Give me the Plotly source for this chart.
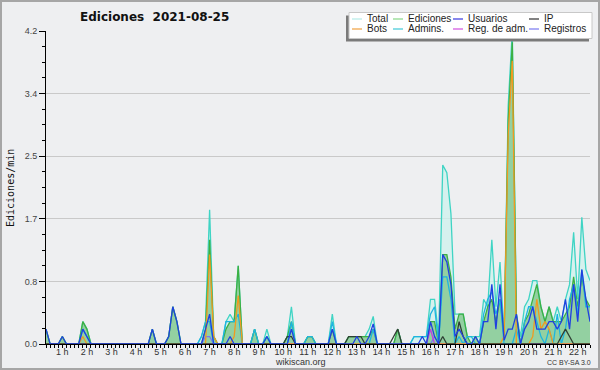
import plotly.graph_objects as go

# ---- data (10-minute bins, first bin at 00:20) ----
start_hour = 1 / 3
step_hour = 1 / 6

total = [
    .2, 0, 0, 0, .1, 0, 0, 0, 0, .3,
    .2, 0, 0, 0, 0, 0, 0, 0, 0, 0,
    0, 0, 0, 0, 0, 0, .2, 0, 0, 0,
    .1, .5, .3, 0, 0, 0, 0, 0, .1, .3,
    1.8, .1, 0, 0, .3, .4, .3, 1.05, 0, 0,
    0, .2, 0, 0, .2, 0, 0, 0, 0, .1,
    .5, 0, 0, 0, .1, .1, 0, 0, 0, 0,
    .4, 0, 0, 0, .1, .1, .1, .1, .1, .2,
    .37, 0, 0, 0, 0, 0, .2, 0, 0, 0,
    .1, .1, .1, .1, .6, .6, .1, 2.4, 2.3, 1.75,
    .4, .4, .4, .1, .1, .1, .1, .6, .5, 1.4,
    .5, 1.1, .1, 3.2, 4.2, .4, .1, .5, .6, .85,
    .85, .5, .3, .5, .3, .5, .3, .6, .8, 1.5,
    .6, 1.7, 1.0, .85]

ediciones = [
    .2, 0, 0, 0, .1, 0, 0, 0, 0, .3,
    .2, 0, 0, 0, 0, 0, 0, 0, 0, 0,
    0, 0, 0, 0, 0, 0, .2, 0, 0, 0,
    .1, .5, .3, 0, 0, 0, 0, 0, 0, .2,
    1.4, .1, 0, 0, .2, .3, .3, 1.05, 0, 0,
    0, .2, 0, 0, .1, 0, 0, 0, 0, .1,
    .3, 0, 0, 0, .1, .1, 0, 0, 0, 0,
    .2, 0, 0, 0, .1, .1, .1, .1, .1, .1,
    .2, 0, 0, 0, 0, 0, .2, 0, 0, 0,
    0, 0, 0, 0, .3, .3, 0, 1.2, 1.2, .9,
    .2, .4, .4, .1, 0, .1, 0, .3, .5, .6,
    .3, .6, .1, 3.0, 4.05, .4, 0, .3, .4, .6,
    .8, .5, .3, .5, .3, .3, .3, .4, .5, .9,
    .5, .9, .6, .5]

usuarios = [
    .2, 0, 0, 0, .1, 0, 0, 0, 0, .2,
    .1, 0, 0, 0, 0, 0, 0, 0, 0, 0,
    0, 0, 0, 0, 0, 0, .2, 0, 0, 0,
    .1, .5, .3, 0, 0, 0, 0, 0, 0, .2,
    .4, 0, 0, 0, 0, .1, 0, 0, 0, 0,
    0, 0, 0, 0, .1, 0, 0, 0, 0, 0,
    .2, 0, 0, 0, 0, 0, 0, 0, 0, 0,
    .2, 0, 0, 0, 0, 0, .1, 0, 0, .1,
    .27, 0, 0, 0, 0, 0, 0, 0, 0, 0,
    0, 0, .1, 0, .3, .1, 0, 1.2, 1.1, .8,
    .1, .2, .1, 0, 0, .1, 0, .3, .3, .8,
    .2, .8, .05, .2, .2, .4, 0, .2, .3, .5,
    .2, .2, .2, .3, .3, .2, .3, .6, .2, .8,
    .3, 1.0, .6, .3]

ip = [
    0, 0, 0, 0, 0, 0, 0, 0, 0, 0,
    0, 0, 0, 0, 0, 0, 0, 0, 0, 0,
    0, 0, 0, 0, 0, 0, 0, 0, 0, 0,
    0, 0, 0, 0, 0, 0, 0, 0, 0, 0,
    0, 0, 0, 0, 0, 0, 0, 0, 0, 0,
    0, 0, 0, 0, 0, 0, 0, 0, 0, .1,
    .1, 0, 0, 0, 0, 0, 0, 0, 0, 0,
    0, 0, 0, 0, .1, .1, .1, .1, 0, 0,
    0, 0, 0, 0, 0, .1, .2, 0, 0, 0,
    0, 0, 0, 0, 0, 0, 0, .1, 0, 0,
    0, .3, .1, 0, 0, 0, 0, 0, 0, 0,
    0, 0, 0, 0, 0, 0, 0, 0, 0, 0,
    0, 0, 0, 0, 0, 0, .1, .2, .1, 0,
    0, 0, 0, 0]

bots = [
    0, 0, 0, 0, 0, 0, 0, 0, 0, .1,
    0, 0, 0, 0, 0, 0, 0, 0, 0, 0,
    0, 0, 0, 0, 0, 0, 0, 0, 0, 0,
    0, 0, 0, 0, 0, 0, 0, 0, 0, 0,
    1.2, .1, 0, 0, 0, 0, .1, .65, 0, 0,
    0, 0, 0, 0, 0, 0, 0, 0, 0, 0,
    0, 0, 0, 0, 0, 0, 0, 0, 0, 0,
    0, 0, 0, 0, 0, 0, 0, 0, 0, 0,
    0, 0, 0, 0, 0, 0, 0, 0, 0, 0,
    0, 0, 0, 0, 0, 0, 0, 0, 0, 0,
    0, 0, 0, 0, 0, 0, 0, 0, 0, 0,
    0, 0, .1, 2.8, 3.8, 0, 0, 0, 0, .1,
    .6, .2, .3, .2, 0, 0, 0, 0, 0, 0,
    0, 0, 0, 0]

admins = [
    0, 0, 0, 0, 0, 0, 0, 0, 0, .2,
    .1, 0, 0, 0, 0, 0, 0, 0, 0, 0,
    0, 0, 0, 0, 0, 0, 0, 0, 0, 0,
    0, 0, 0, 0, 0, 0, 0, 0, .1, .3,
    .3, 0, 0, 0, .3, .3, .3, .4, 0, 0,
    0, .2, 0, 0, .1, 0, 0, 0, 0, 0,
    .3, 0, 0, 0, .1, .1, 0, 0, 0, 0,
    .3, 0, 0, 0, 0, 0, 0, 0, 0, 0,
    .2, 0, 0, 0, 0, 0, 0, 0, 0, 0,
    .1, .1, .1, .1, .4, .5, 0, .9, .9, .6,
    0, .1, 0, .1, .1, 0, 0, .4, .6, .7,
    .4, .6, 0, 0, 0, .2, 0, .3, .5, .5,
    .3, .1, 0, .2, 0, .4, 0, .2, .6, .8,
    .4, 1.0, .5, .5]

reg_adm = [0] * 94 + [.2] + [0] * 39

registros = [
    0, 0, 0, 0, 0, 0, 0, 0, 0, 0,
    0, 0, 0, 0, 0, 0, 0, 0, 0, 0,
    0, 0, 0, 0, 0, 0, 0, 0, 0, 0,
    0, 0, 0, 0, 0, 0, 0, 0, 0, .1,
    .1, 0, 0, 0, 0, 0, 0, 0, 0, 0,
    0, 0, 0, 0, 0, 0, 0, 0, 0, 0,
    0, 0, 0, 0, 0, 0, 0, 0, 0, 0,
    0, 0, 0, 0, 0, 0, 0, 0, 0, 0,
    0, 0, 0, 0, 0, 0, 0, 0, 0, 0,
    0, 0, 0, 0, 0, .1, 0, 0, 0, 0,
    0, 0, 0, 0, 0, 0, 0, 0, 0, 0,
    0, 0, 0, 0, 0, 0, 0, 0, 0, 0,
    0, 0, 0, 0, 0, 0, 0, 0, 0, 0,
    0, 0, 0, 0]

y_tick_vals = [0, 0.84, 1.68, 2.52, 3.36, 4.2]
y_tick_text = ["0.0", "0.8", "1.7", "2.5", "3.4", "4.2"]

n = len(total)
t = [start_hour + i * step_hour for i in range(n)]
x_ticktext = []
for v in t:
    h = round(v * 6) / 6
    x_ticktext.append(f"{int(round(h))} h" if abs(h - round(h)) < 1e-6 else "")

fig = go.Figure()
fig.add_trace(go.Scatter(x=t, y=total, mode="lines", fill="tozeroy",
                         fillcolor="rgba(205,242,236,0.75)",
                         line=dict(color="#3fd4c4", width=1.3)))
fig.add_trace(go.Scatter(x=t, y=ediciones, mode="lines", fill="tozeroy",
                         fillcolor="rgba(110,190,120,0.65)",
                         line=dict(color="#3cb043", width=1.3)))
line_series = [
    (registros, "#7878f0"),
    (reg_adm, "#c040e0"),
    (admins, "#1eb4e0"),
    (bots, "#f09a20"),
    (ip, "#2f3f33"),
    (usuarios, "#2040e0"),
]
for ys, col in line_series:
    fig.add_trace(go.Scatter(x=t, y=ys, mode="lines",
                             line=dict(color=col, width=1.3)))

BG = "#eeeff1"
L, R, T, B = 46, 10, 31, 26
PW, PH = 600 - L - R, 370 - T - B
SANS = "Liberation Sans"


def px(x):
    return (x - L) / PW


def py(y):
    return (370 - B - y) / PH


fig.update_layout(
    width=600, height=370, margin=dict(l=L, r=R, t=T, b=B),
    paper_bgcolor=BG, plot_bgcolor=BG, showlegend=False,
    font=dict(family=SANS, color="#333333"),
    xaxis=dict(range=[t[0], t[-1]], tickvals=t, ticktext=x_ticktext,
               ticks="outside", ticklen=3, tickcolor="#000", tickwidth=1,
               showline=True, linecolor="#000", linewidth=1,
               showgrid=False, zeroline=False, ticklabelstandoff=-4,
               tickfont=dict(size=9, color="#333", family=SANS)),
    yaxis=dict(range=[0, 4.2], tickvals=y_tick_vals, ticktext=y_tick_text,
               ticks="outside", ticklen=6, tickcolor="#000",
               showline=True, linecolor="#000", linewidth=1,
               gridcolor="#c9c9c9", gridwidth=1, zeroline=False,
               tickfont=dict(size=9, color="#444", family=SANS),
               minor=dict(dtick=0.21, tick0=0, ticks="outside", ticklen=3,
                          tickcolor="#000", showgrid=False)),
)

shapes = []
# outer frame
shapes.append(dict(type="rect", xref="paper", yref="paper",
                   x0=px(1), x1=px(599), y0=py(1), y1=py(369),
                   line=dict(color="#a6a6a6", width=2)))
# legend shadow (offset down-left) + box
shapes.append(dict(type="rect", xref="paper", yref="paper",
                   x0=px(346), x1=px(589), y0=py(15.5), y1=py(41.5),
                   fillcolor="#7a7a7a", line=dict(width=0)))
shapes.append(dict(type="rect", xref="paper", yref="paper",
                   x0=px(349), x1=px(592), y0=py(12.5), y1=py(38.5),
                   fillcolor="#ffffff", line=dict(color="#c8c8c8", width=1)))

legend_items = [
    ("Total", "#b4ece8", 352, 19), ("Ediciones", "#88d888", 393, 19),
    ("Usuarios", "#3838e0", 453, 19), ("IP", "#303030", 529, 19),
    ("Bots", "#f0a040", 352, 29), ("Admins.", "#40c8d8", 393, 29),
    ("Reg. de adm.", "#d050e0", 453, 29), ("Registros", "#7878f0", 529, 29),
]
annotations = []
for name, col, lx, ly in legend_items:
    shapes.append(dict(type="line", xref="paper", yref="paper",
                       x0=px(lx), x1=px(lx + 10), y0=py(ly), y1=py(ly),
                       line=dict(color=col, width=1.2)))
    annotations.append(dict(text=name, xref="paper", yref="paper",
                            x=px(lx + 13), y=py(ly), xanchor="left",
                            yanchor="middle", showarrow=False,
                            font=dict(size=10, color="#222", family=SANS)))

annotations.append(dict(text="<b>Ediciones  2021-08-25</b>", xref="paper",
                        yref="paper", x=px(154), y=py(17), xanchor="center",
                        yanchor="middle", showarrow=False,
                        font=dict(size=12, color="#111", family="DejaVu Sans")))
annotations.append(dict(text="Ediciones/min", xref="paper", yref="paper",
                        x=px(10), y=py(188), textangle=-90, xanchor="center",
                        yanchor="middle", showarrow=False,
                        font=dict(size=10, family="DejaVu Sans Mono",
                                  color="#111")))
annotations.append(dict(text="wikiscan.org", xref="paper", yref="paper",
                        x=px(300), y=py(362), xanchor="center",
                        yanchor="middle", showarrow=False,
                        font=dict(size=9, color="#333", family=SANS)))
annotations.append(dict(text="CC BY-SA 3.0", xref="paper", yref="paper",
                        x=px(569), y=py(362), xanchor="center",
                        yanchor="middle", showarrow=False,
                        font=dict(size=7, color="#333", family=SANS)))

fig.update_layout(shapes=shapes, annotations=annotations)
fig.write_html("out.html")
